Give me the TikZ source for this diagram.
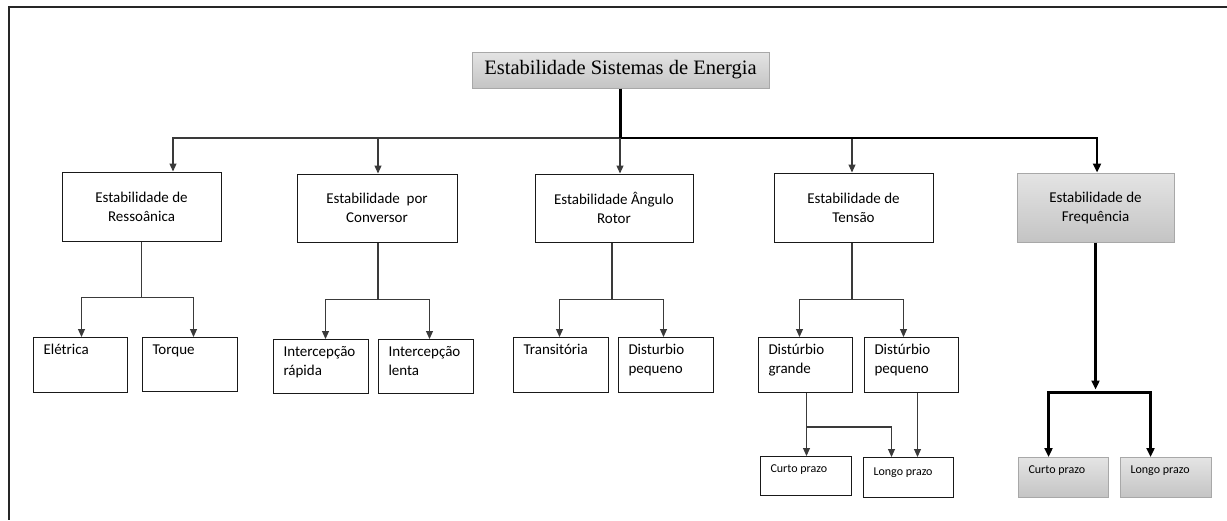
\documentclass[tikz,border=0pt]{standalone}
\usepackage{fontspec}
\setmainfont{Carlito}
\newfontfamily\titlefont{Liberation Serif}
\usetikzlibrary{arrows.meta,calc}

\definecolor{linegray}{HTML}{3A3A3A}
\definecolor{shadetop}{HTML}{E4E4E4}
\definecolor{shadebot}{HTML}{C4C4C4}
\definecolor{shadeedge}{HTML}{A8A8A8}

\tikzset{
  frame/.style={draw=black!85, line width=2pt},
  conn/.style={draw=linegray, line width=1.1pt},
  arr/.style={conn, -{Triangle[width=7pt,length=8pt]}},
  heavy/.style={draw=black, line width=2.2pt},
  heavyarr/.style={heavy, -{Triangle[width=8pt,length=9pt]}},
  plain/.style={rectangle, draw=black!90, line width=1pt, fill=white},
  shaded/.style={rectangle, draw=shadeedge, line width=1pt,
                 top color=shadetop, bottom color=shadebot},
  group/.style={plain, align=center, inner sep=0pt,
                font=\fontsize{15}{19}\selectfont},
  groupshaded/.style={shaded, align=center, inner sep=0pt,
                font=\fontsize{15}{19}\selectfont},
  leaf/.style={plain, anchor=north west, inner xsep=10pt, inner ysep=0pt,
               font=\fontsize{15}{19}\selectfont},
  smallleaf/.style={leaf, font=\fontsize{12}{15}\selectfont},
  smallshaded/.style={shaded, anchor=north west, inner xsep=10pt, inner ysep=0pt,
               font=\fontsize{12}{15}\selectfont},
  titlebox/.style={shaded, inner sep=0pt, font=\titlefont\fontsize{20.5}{24}\selectfont},
}

% leaf box: style, name, x, y (top left), width, height, first baseline, text
\newcommand\leafnode[8]{%
  \node[#1] (#2) at (#3,#4)
    {\parbox[t][#6pt][t]{\dimexpr#5pt-20pt\relax}{\raggedright\rule{0pt}{#7pt}#8}};}

\begin{document}
\begin{tikzpicture}[x=1pt,y=-1pt]
\useasboundingbox (0,0) rectangle (1227,520);

% outer frame
\draw[frame] (1227,7) -- (9,7) -- (9,520);

% root
\node[titlebox, minimum width=297pt, minimum height=36pt] (title) at (620.5,70)
  {Estabilidade Sistemas de Energia};

% first level
\node[group, minimum width=159pt, minimum height=69pt] (res) at (141.5,206.5)
  {Estabilidade de\\Ressoânica};
\node[group, minimum width=160pt, minimum height=68pt] (con) at (377,208)
  {Estabilidade~ por\\Conversor};
\node[group, minimum width=158pt, minimum height=68pt] (ang) at (614,208)
  {Estabilidade Ângulo\\Rotor};
\node[group, minimum width=159pt, minimum height=69pt] (ten) at (853.5,207.5)
  {Estabilidade de\\Tensão};
\node[groupshaded, minimum width=157pt, minimum height=69pt] (fre) at (1095.5,207.5)
  {Estabilidade de\\Frequência};

% second level
\leafnode{leaf}{ele}{33}{337}{94}{55}{17}{Elétrica}
\leafnode{leaf}{tor}{142}{337}{95}{54}{17}{Torque}
\leafnode{leaf}{irap}{273}{339}{95}{54}{17}{Intercepção\\rápida}
\leafnode{leaf}{ilen}{378}{339}{95}{54}{17}{Intercepção\\lenta}
\leafnode{leaf}{tra}{513}{337}{95}{55}{17}{Transitória}
\leafnode{leaf}{dpe}{618}{337}{95}{55}{17}{Disturbio\\pequeno}
\leafnode{leaf}{dgr}{758}{337}{94}{55}{17}{Distúrbio\\grande}
\leafnode{leaf}{dpq}{864}{337}{94}{55}{17}{Distúrbio\\pequeno}

% third level
\leafnode{smallleaf}{tcp}{760}{456}{91}{39}{16}{Curto prazo}
\leafnode{smallleaf}{tlp}{863}{457}{90}{40}{18}{Longo prazo}
\leafnode{smallshaded}{fcp}{1018}{457}{90}{40}{16}{Curto prazo}
\leafnode{smallshaded}{flp}{1120}{457}{91}{40}{16}{Longo prazo}

% root to first level
\coordinate (bus) at (620.5,138);
\draw[arr] (bus) -| ([xshift=31.5pt]res.north);
\draw[arr] (bus) -| ([xshift=1pt]con.north);
\draw[arr] (bus) -| ([xshift=6pt]ang.north);
\draw[arr] (bus) -| ([xshift=-1.5pt]ten.north);
\draw[heavy] (title.south) -- (bus);
\draw[heavyarr] (bus) -| ([xshift=1.5pt]fre.north);

% Ressonancia
\draw[conn] (res.south) -- ++(0,56) coordinate (resj);
\draw[arr] (resj) -| ([xshift=1pt]ele.north);
\draw[arr] (resj) -| ([xshift=3.5pt]tor.north);

% Conversor
\draw[conn] ([xshift=1pt]con.south) -- ++(0,57) coordinate (conj);
\draw[arr] (conj) -| ([xshift=4.5pt]irap.north);
\draw[arr] (conj) -| ([xshift=3.5pt]ilen.north);

% Angulo rotor
\draw[conn] ([xshift=-2pt]ang.south) -- ++(0,57) coordinate (angj);
\draw[arr] (angj) -| ([xshift=-1.5pt]tra.north);
\draw[arr] (angj) -| ([xshift=-2.5pt]dpe.north);

% Tensao
\draw[conn] ([xshift=-1.5pt]ten.south) -- ++(0,57) coordinate (tenj);
\draw[arr] (tenj) -| ([xshift=-6pt]dgr.north);
\draw[arr] (tenj) -| ([xshift=-8pt]dpq.north);

% disturbance to time scale
\coordinate (g1) at ([xshift=1pt]dgr.south);
\draw[arr] (g1) -- (g1 |- tcp.north);
\coordinate (g2) at ($(g1)+(0,34)$);
\draw[arr] (g2) -| ([xshift=-17pt]tlp.north);
\coordinate (p1) at ([xshift=6pt]dpq.south);
\draw[arr] (p1) -- (p1 |- tlp.north);

% Frequencia
\coordinate (fj) at ($(fre.south)+(0,150)$);
\draw[heavyarr] (fre.south) -- ($(fre.south)+(0,147)$);
\draw[heavyarr] (fj) -| ([xshift=-15pt]fcp.north);
\draw[heavyarr] (fj) -| ([xshift=-15.5pt]flp.north);
\end{tikzpicture}
\end{document}
